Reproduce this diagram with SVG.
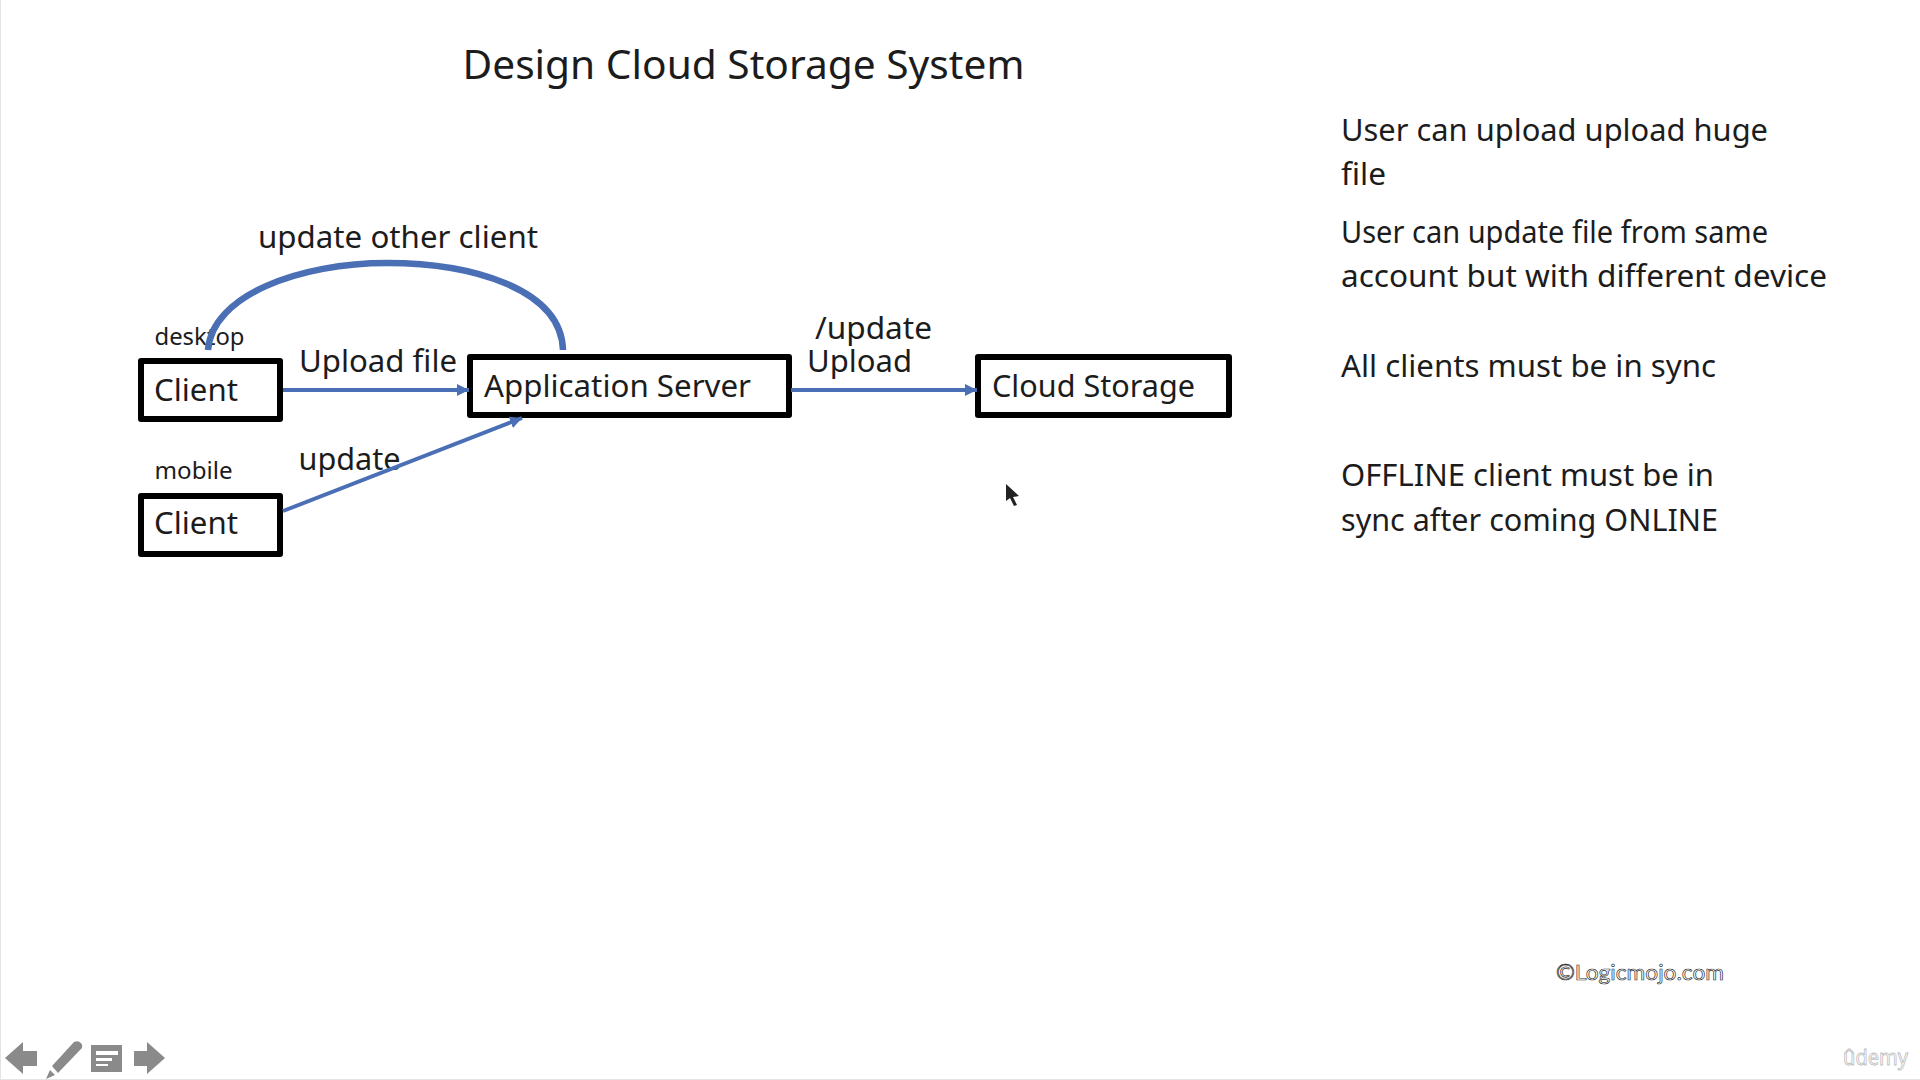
<svg xmlns="http://www.w3.org/2000/svg" width="1920" height="1080" viewBox="0 0 1920 1080">
<style>
text{font-family:"Noto Sans","Open Sans",sans-serif;fill:#1c1c1c}
.t{font-size:31px}
.s{font-size:24px}
.b{fill:#fff;stroke:#000;stroke-width:6;stroke-linejoin:round}
.c{fill:none;stroke:#4a6fb5;stroke-width:4}
.i{fill:#8a8a8a}
</style>
<defs>
<marker id="a" markerUnits="userSpaceOnUse" markerWidth="14" markerHeight="14" refX="12" refY="7" orient="auto"><path d="M0 1L12 7L0 13Z" fill="#4a6fb5"/></marker>
</defs>
<rect width="1920" height="1080" fill="#fff"/>
<path d="M0.5 0V1080M0 1079.5H1920" stroke="#e4e4e4" fill="none"/>
<text x="462.500" y="79" font-size="40" textLength="562" lengthAdjust="spacingAndGlyphs">Design Cloud Storage System</text>
<g id="client-desktop"><text class="s" x="154.500" y="345" textLength="90" lengthAdjust="spacingAndGlyphs">desktop</text><rect class="b" x="141" y="361" width="139" height="58"/><text class="t" x="154" y="401" textLength="84" lengthAdjust="spacingAndGlyphs">Client</text></g>
<g id="client-mobile"><text class="s" x="154.500" y="479" textLength="78" lengthAdjust="spacingAndGlyphs">mobile</text><rect class="b" x="141" y="496" width="139" height="58"/><text class="t" x="154" y="534" textLength="84" lengthAdjust="spacingAndGlyphs">Client</text></g>
<g id="app-server"><rect class="b" x="470" y="357" width="319" height="58"/><text class="t" x="484" y="397" textLength="267" lengthAdjust="spacingAndGlyphs">Application Server</text></g>
<g id="cloud-storage"><rect class="b" x="978" y="357" width="251" height="58"/><text class="t" x="992" y="397" textLength="203" lengthAdjust="spacingAndGlyphs">Cloud Storage</text></g>
<g id="labels">
<text class="t" x="258" y="247.500" textLength="280" lengthAdjust="spacingAndGlyphs">update other client</text>
<text class="t" x="299" y="371.500" textLength="158" lengthAdjust="spacingAndGlyphs">Upload file</text>
<text class="t" x="298.500" y="470" textLength="102" lengthAdjust="spacingAndGlyphs">update</text>
<text class="t" x="815" y="338.500" textLength="117" lengthAdjust="spacingAndGlyphs">/update</text>
<text class="t" x="807" y="371.500" textLength="105" lengthAdjust="spacingAndGlyphs">Upload</text>
<text class="t" x="1341" y="141" textLength="427" lengthAdjust="spacingAndGlyphs">User can upload upload huge</text>
<text class="t" x="1341" y="185" textLength="45" lengthAdjust="spacingAndGlyphs">file</text>
<text class="t" x="1341" y="243" textLength="427" lengthAdjust="spacingAndGlyphs">User can update file from same</text>
<text class="t" x="1341" y="286.500" textLength="486" lengthAdjust="spacingAndGlyphs">account but with different device</text>
<text class="t" x="1341" y="377" textLength="375" lengthAdjust="spacingAndGlyphs">All clients must be in sync</text>
<text class="t" x="1341" y="486" textLength="373" lengthAdjust="spacingAndGlyphs">OFFLINE client must be in</text>
<text class="t" x="1341" y="530.500" textLength="377" lengthAdjust="spacingAndGlyphs">sync after coming ONLINE</text>
<text x="1556" y="980" font-size="22" textLength="168" lengthAdjust="spacingAndGlyphs" style="font-family:'Lato',sans-serif;fill:#fff;stroke:#333;stroke-width:.7">©Logicmojo.com</text>
<text x="1843" y="1065" font-size="21" textLength="65" lengthAdjust="spacingAndGlyphs" style="fill:#fff;stroke:#bdbdbd;stroke-width:.8">ûdemy</text>
</g>
<g id="connectors">
<path class="c" d="M283 390H469" marker-end="url(#a)"/>
<path class="c" d="M283 511L522 418" marker-end="url(#a)"/>
<path class="c" d="M791 390H977" marker-end="url(#a)"/>
<path d="M208 350C212 295 300 263 387 263C470 263 561 288 563 350" fill="none" stroke="#4a6fb5" stroke-width="6.500"/>
</g>
<path d="M1006 484V501L1010 498L1014 506L1017 505L1013 497L1019 496Z" fill="#222"/>
<g id="toolbar" class="i">
<path d="M5 1058L23 1042V1051H37V1066H23V1074Z"/>
<path d="M52 1066L74 1042Q78 1040 81 1043Q84 1047 80 1050L58 1073ZM50 1070L55 1075L46 1079Z"/>
<rect x="91" y="1045" width="31" height="27"/>
<path d="M96 1051H118V1055H96ZM96 1058H112V1061H96ZM96 1064H108V1066H96Z" fill="#fff"/>
<path d="M165 1058L147 1042V1051H134V1066H147V1074Z"/>
</g>
</svg>
